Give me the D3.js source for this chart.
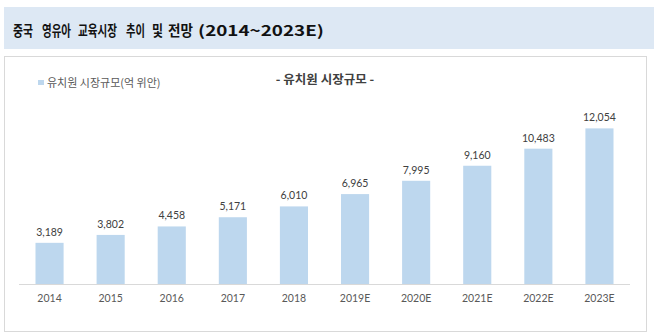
<!DOCTYPE html>
<html><head><meta charset="utf-8">
<script src="https://cdn.jsdelivr.net/npm/d3@7"></script>
<style>body{margin:0;background:#fff;}svg{display:block;}</style>
</head><body>
<script>
const categories = ["2014","2015","2016","2017","2018","2019E","2020E","2021E","2022E","2023E"];
const values = [3189,3802,4458,5171,6010,6965,7995,9160,10483,12054];
const pageTitleWords = ["중국","영유아","교육시장","추이","및","전망","(2014~2023E)"];
const chartTitle = "- 유치원 시장규모 -";
const seriesName = "유치원 시장규모(억 위안)";

const W = 654, H = 335;
const svg = d3.select("body").append("svg").attr("width", W).attr("height", H);
const kr = "'Noto Sans CJK KR', 'Noto Sans', sans-serif";
const num = "Lato, 'Open Sans', sans-serif";

// header band
svg.append("rect").attr("x",4).attr("y",7).attr("width",W-4).attr("height",42).attr("fill","#dde8f4");
const wordBox = [[13,20],[42,29],[78,39],[126,19],[152,11],[168,25],[198,126]];
pageTitleWords.forEach((w,i)=>{
  const t = svg.append("text").attr("font-family",kr).attr("font-weight","bold")
    .attr("font-size",14.5).attr("fill","#111").text(w);
  const natural = t.node().getComputedTextLength();
  const sx = wordBox[i][1] / natural;
  t.attr("transform",`translate(${wordBox[i][0]},36) scale(${sx},1)`);
});

// chart frame
svg.append("rect").attr("x",4.5).attr("y",56.5).attr("width",642).attr("height",275)
  .attr("fill","#fff").attr("stroke","#d9d9d9").attr("stroke-width",1);

// legend
svg.append("rect").attr("x",38).attr("y",80).attr("width",6).attr("height",5).attr("fill","#bdd7ee");
svg.append("text").attr("x",47).attr("y",86.5).attr("font-family",kr).attr("font-size",11)
  .attr("fill","#595959").text(seriesName);

// chart title
svg.append("text").attr("x",325).attr("y",83.5).attr("text-anchor","middle").attr("font-family",kr)
  .attr("font-weight","bold").attr("font-size",12.5).attr("fill","#404040").text(chartTitle);

const x = d3.scaleBand().domain(categories).range([19,630]).paddingInner(0.54).paddingOuter(0.27);
const y = d3.scaleLinear().domain([0,14000]).range([284,284-14000*0.01291]);

svg.selectAll("rect.bar").data(values).enter().append("rect").attr("class","bar")
  .attr("x",(d,i)=>x(categories[i])).attr("width",x.bandwidth())
  .attr("y",d=>y(d)).attr("height",d=>y(0)-y(d)).attr("fill","#bdd7ee");

svg.selectAll("text.val").data(values).enter().append("text").attr("class","val")
  .attr("x",(d,i)=>x(categories[i])+x.bandwidth()/2).attr("y",d=>y(d)-7)
  .attr("text-anchor","middle").attr("font-family",num).attr("font-size",10.5)
  .attr("fill","#404040").text(d=>d3.format(",")(d));

const xAxis = d3.axisBottom(x).tickSize(0).tickPadding(11);
const g = svg.append("g").attr("transform","translate(0,284)").call(xAxis);
g.select(".domain").attr("stroke","#d9d9d9").attr("d","M19,0.5H630");
g.selectAll("text").attr("font-family",num).attr("font-size",10.5).attr("fill","#595959");
</script>
</body></html>
